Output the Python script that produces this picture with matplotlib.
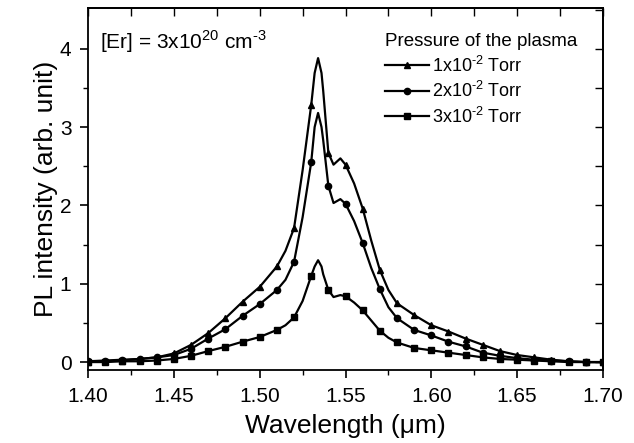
import numpy as np
import matplotlib
matplotlib.use("Agg")
import matplotlib.pyplot as plt

plt.rcParams['font.family'] = ['Liberation Sans', 'DejaVu Sans']
plt.rcParams['mathtext.fontset'] = 'custom'
plt.rcParams['mathtext.rm'] = 'Liberation Sans'

# wavelength grid (um)
wl = [1.40, 1.41, 1.42, 1.43, 1.44, 1.45, 1.46, 1.47, 1.48, 1.49, 1.50, 1.51, 1.515,
      1.52, 1.525, 1.53, 1.532, 1.534, 1.536, 1.537, 1.54, 1.543, 1.547, 1.55, 1.555,
      1.56, 1.565, 1.57, 1.575, 1.58, 1.59, 1.60, 1.61, 1.62, 1.63, 1.64, 1.65, 1.66,
      1.67, 1.68, 1.69, 1.70]

pl_1torr = [0.00, 0.01, 0.02, 0.04, 0.06, 0.11, 0.22, 0.37, 0.56, 0.77, 0.96, 1.22, 1.42,
            1.71, 2.45, 3.28, 3.69, 3.88, 3.69, 3.46, 2.67, 2.52, 2.60, 2.52, 2.28,
            1.96, 1.55, 1.175, 0.92, 0.75, 0.60, 0.47, 0.39, 0.30, 0.22, 0.14, 0.09, 0.06,
            0.03, 0.01, 0.00, 0.00]

pl_2torr = [0.01, 0.02, 0.03, 0.04, 0.06, 0.09, 0.17, 0.30, 0.42, 0.59, 0.74, 0.92, 1.05,
            1.28, 1.85, 2.55, 3.00, 3.18, 3.00, 2.83, 2.25, 2.03, 2.08, 2.02, 1.80,
            1.52, 1.20, 0.93, 0.70, 0.56, 0.41, 0.34, 0.26, 0.20, 0.12, 0.08, 0.05, 0.03,
            0.02, 0.01, 0.00, 0.00]

pl_3torr = [0.00, 0.00, 0.01, 0.01, 0.02, 0.04, 0.08, 0.14, 0.195, 0.26, 0.32, 0.41, 0.47,
            0.57, 0.78, 1.10, 1.22, 1.30, 1.22, 1.12, 0.92, 0.83, 0.855, 0.84, 0.76,
            0.66, 0.53, 0.40, 0.31, 0.25, 0.18, 0.15, 0.12, 0.09, 0.06, 0.04, 0.03, 0.02,
            0.01, 0.00, 0.00, 0.00]

labels = [r"1x10$^{\text{-}2}$ Torr", r"2x10$^{\text{-}2}$ Torr", r"3x10$^{\text{-}2}$ Torr"]
markers = ["^", "o", "s"]

wl_arr = np.array(wl)
# markers only on the 0.01 um steps
mark_idx = [i for i, w in enumerate(wl) if abs(w * 100 - round(w * 100)) < 1e-6]

fig = plt.figure(figsize=(6.34, 4.43), dpi=100)
ax = fig.add_axes([0.139, 0.165, 0.812, 0.817])

for y, lab, m in zip([pl_1torr, pl_2torr, pl_3torr], labels, markers):
    ax.plot(wl_arr, y, color="black", lw=1.6, marker=m, markersize=4.5,
            markevery=mark_idx, label=lab)

ax.set_xlim(1.40, 1.70)
ax.set_ylim(-0.1, 4.52)
ax.set_xticks([1.40, 1.45, 1.50, 1.55, 1.60, 1.65, 1.70])
ax.set_xticks(np.arange(1.425, 1.70, 0.05), minor=True)
ax.set_yticks([0, 1, 2, 3, 4])
ax.set_yticks([0.5, 1.5, 2.5, 3.5], minor=True)
ax.tick_params(which="major", direction="out", length=6, width=1.2, labelsize=15, pad=6)
ax.tick_params(which="minor", direction="out", length=3.5, width=1.0)

top = ax.secondary_xaxis("top")
top.set_xticks(np.arange(1.40, 1.701, 0.025))
top.tick_params(direction="in", length=6, width=1.0, labeltop=False)
right = ax.secondary_yaxis("right")
right.set_yticks(np.arange(0, 4.51, 0.5))
right.tick_params(direction="in", length=6, width=1.0, labelright=False)

for s in ax.spines.values():
    s.set_linewidth(1.3)
top.spines["top"].set_linewidth(1.3)
right.spines["right"].set_linewidth(1.3)

ax.set_xlabel("Wavelength (\u03bcm)", fontsize=19, labelpad=6)
ax.set_ylabel("PL intensity (arb. unit)", fontsize=19, labelpad=1)

ax.text(0.023, 0.906, r"[Er] = 3x10$^{20}$ cm$^{\text{-}3}$", transform=ax.transAxes,
        fontsize=15, va="center", ha="left")

leg = ax.legend(title="Pressure of the plasma", loc="upper right", frameon=False,
                fontsize=13, title_fontsize=13.5, handlelength=2.4, handletextpad=0.2,
                labelspacing=0.3, borderaxespad=1.0)
leg._legend_box.align = "left"

fig.savefig("out.png", dpi=100)
